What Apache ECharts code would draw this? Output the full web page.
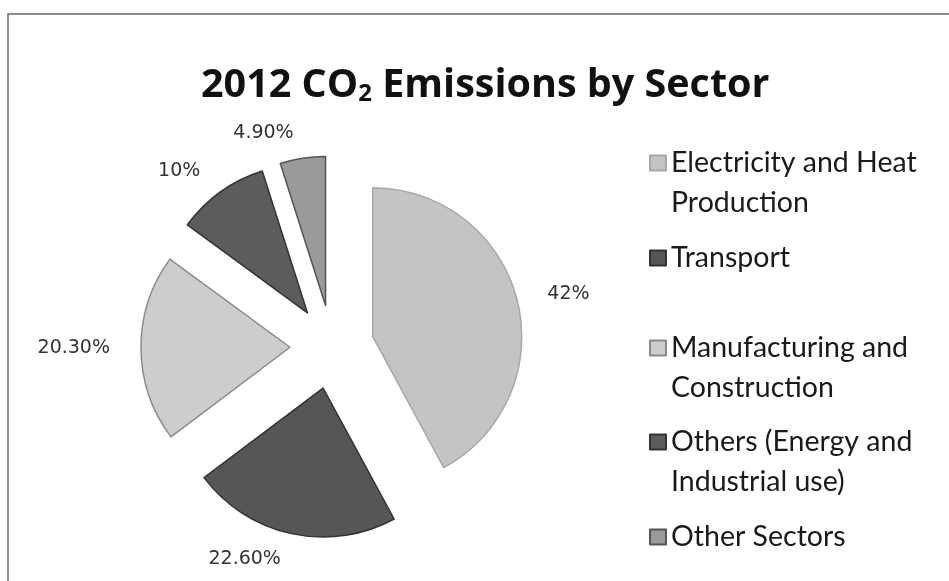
<!DOCTYPE html>
<html>
<head>
<meta charset="utf-8">
<script src="https://cdn.jsdelivr.net/npm/echarts@6/dist/echarts.min.js"></script>
<style>html,body{margin:0;padding:0;background:#fff}#c{width:949px;height:581px}</style>
</head>
<body>
<div id="c"></div>
<script>
const categories = ['Electricity and Heat Production', 'Transport', 'Manufacturing and Construction', 'Others (Energy and Industrial use)', 'Other Sectors'];
const legendLabels = ['Electricity and Heat\nProduction', 'Transport', 'Manufacturing and\nConstruction', 'Others (Energy and\nIndustrial use)', 'Other Sectors'];
const values = [42, 22.6, 20.3, 10, 4.9];
const valueLabels = ['42%', '22.60%', '20.30%', '10%', '4.90%'];
const colors = ['#c4c4c4', '#565656', '#cdcdcd', '#5c5c5c', '#9a9a9a'];
const borders = ['#a8a8a8', '#333333', '#8a8a8a', '#333333', '#555555'];

const chart = echarts.init(document.getElementById('c'));
const legendTops = [103, 238, 288, 382, 517];
const legends = categories.map((name, i) => {
  const twoLine = legendLabels[i].indexOf('\n') >= 0;
  return {
    data: [name],
    orient: 'vertical',
    left: 649,
    top: legendTops[i],
    padding: 0,
    itemWidth: 16,
    itemHeight: 15,
    icon: 'rect',
    selectedMode: false,
    formatter: () => (twoLine ? '\n' : '') + legendLabels[i],
    textStyle: {
      fontFamily: 'Lato',
      fontSize: 28.5,
      color: '#1a1a1a',
      lineHeight: 40
    }
  };
});

chart.setOption({
  animation: false,
  backgroundColor: '#fff',
  title: {
    text: '2012 CO{sub|2} Emissions by Sector',
    left: 196,
    top: 61,
    textStyle: {
      fontFamily: 'Open Sans',
      fontWeight: 'bold',
      fontSize: 39.5,
      color: '#111',
      rich: {
        sub: { fontFamily: 'Open Sans', fontWeight: 'bold', fontSize: 24, color: '#111', verticalAlign: 'bottom', padding: [16, 0, 0, 0] }
      }
    }
  },
  legend: legends,
  graphic: [{
    type: 'rect',
    shape: { x: 8, y: 14, width: 1000, height: 700 },
    style: { fill: 'none', stroke: '#6a6a6a', lineWidth: 1.5 },
    silent: true
  }],
  series: [{
    type: 'pie',
    center: [332, 347],
    radius: [0, 149],
    startAngle: 90,
    clockwise: true,
    selectedMode: 'multiple',
    selectedOffset: 42,
    avoidLabelOverlap: false,
    data: categories.map((name, i) => ({
      name: name,
      value: values[i],
      selected: true,
      itemStyle: { color: colors[i], borderColor: borders[i], borderWidth: 1.5 }
    })),
    label: {
      show: true,
      position: 'outside',
      formatter: (p) => valueLabels[p.dataIndex],
      fontFamily: 'DejaVu Sans',
      fontSize: 19,
      color: '#333'
    },
    labelLine: { show: false, length: 26, length2: 0 },
    emphasis: { disabled: true }
  }]
});
</script>
</body>
</html>
